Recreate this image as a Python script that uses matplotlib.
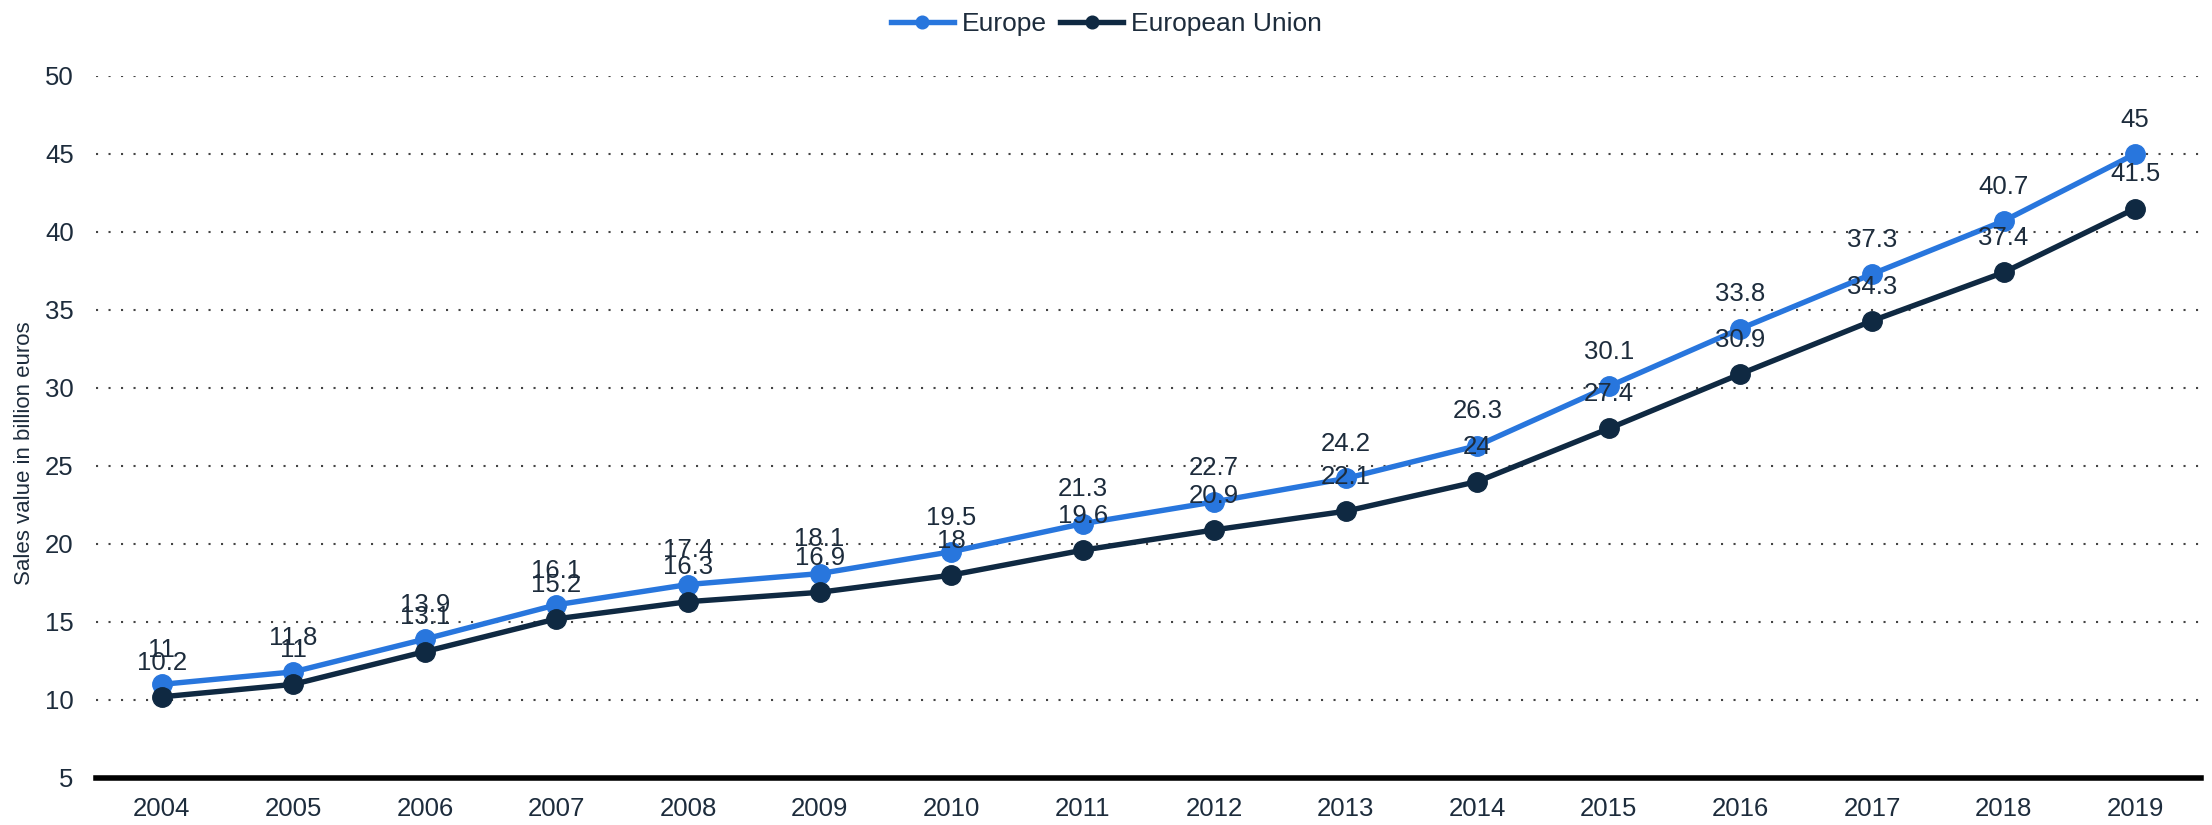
import numpy as np
import matplotlib
matplotlib.use("Agg")
import matplotlib.pyplot as plt

plt.rcParams['font.family'] = ['Liberation Sans', 'DejaVu Sans']

years = ['2004', '2005', '2006', '2007', '2008', '2009', '2010', '2011',
         '2012', '2013', '2014', '2015', '2016', '2017', '2018', '2019']
europe = [11, 11.8, 13.9, 16.1, 17.4, 18.1, 19.5, 21.3,
          22.7, 24.2, 26.3, 30.1, 33.8, 37.3, 40.7, 45]
eu = [10.2, 11, 13.1, 15.2, 16.3, 16.9, 18, 19.6,
      20.9, 22.1, 24, 27.4, 30.9, 34.3, 37.4, 41.5]

blue = '#2876dd'
navy = '#0f2942'
text_col = '#1d2c3c'

fig = plt.figure(figsize=(22.12, 8.25), dpi=100)
ax = fig.add_axes([0.0434, 0.057, 0.9516, 0.851])

x = np.arange(len(years))
ax.plot(x, europe, color=blue, lw=3.9, marker='o', ms=14, label='Europe', zorder=3)
ax.plot(x, eu, color=navy, lw=3.9, marker='o', ms=14, label='European Union', zorder=3)

# labels: EU first so Europe sits on top where they overlap
for xi, v in zip(x, eu):
    ax.annotate(f'{v:g}', (xi, v), xytext=(0, 16), textcoords='offset points',
                ha='center', va='bottom', fontsize=18.5, color=text_col, zorder=4)
for xi, v in zip(x, europe):
    ax.annotate(f'{v:g}', (xi, v), xytext=(0, 16), textcoords='offset points',
                ha='center', va='bottom', fontsize=18.5, color=text_col, zorder=4)

ax.set_xlim(-0.5, 15.5)
ax.set_ylim(5, 50)
ax.set_yticks(range(5, 51, 5))
ax.set_xticks(x)
ax.set_xticklabels(years)
for yv in range(10, 51, 5):
    ax.axhline(yv, color='#444444', lw=1.5, ls=(0, (1, 5)), zorder=1)

for s in ['top', 'right', 'left']:
    ax.spines[s].set_visible(False)
ax.spines['bottom'].set_linewidth(4)
ax.spines['bottom'].set_color('black')
ax.tick_params(axis='both', length=0, labelsize=18.5, colors=text_col)
ax.tick_params(axis='x', pad=14)
ax.tick_params(axis='y', pad=16)
ax.set_ylabel('Sales value in billion euros', fontsize=16, color=text_col)
ax.yaxis.set_label_coords(-0.029, 0.463)

ax.legend(loc='upper center', bbox_to_anchor=(0.48, 1.125), ncol=2, frameon=False,
          fontsize=19, markerscale=0.65, handlelength=2.4, columnspacing=0.5,
          handletextpad=0.3, labelcolor=text_col)

fig.savefig('out.png', dpi=100)
